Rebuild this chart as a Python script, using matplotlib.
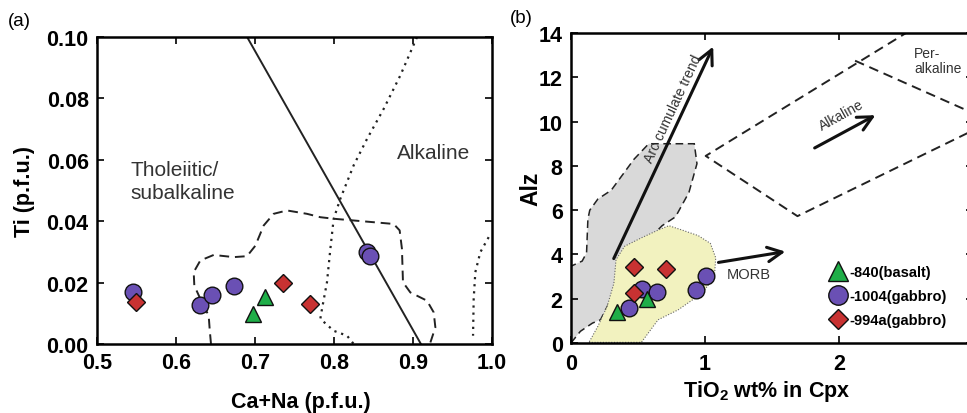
import numpy as np
import matplotlib
matplotlib.use("Agg")
import matplotlib.pyplot as plt
from matplotlib.lines import Line2D

plt.rcParams['font.family'] = ['Liberation Sans', 'DejaVu Sans']
plt.rcParams['mathtext.fontset'] = 'custom'
plt.rcParams['mathtext.rm'] = 'Liberation Sans'
plt.rcParams['mathtext.bf'] = 'Liberation Sans:bold'

# ---- panel (a): Ti vs Ca+Na ----
a_circle_x = [0.546, 0.630, 0.646, 0.673, 0.842, 0.846]
a_circle_y = [0.0169, 0.0127, 0.0160, 0.0188, 0.0299, 0.0288]
a_tri_x = [0.698, 0.713]
a_tri_y = [0.0098, 0.0154]
a_dia_x = [0.550, 0.736, 0.769]
a_dia_y = [0.0138, 0.0199, 0.0129]

# divider line
a_line_x = [0.690, 0.910]
a_line_y = [0.100, 0.000]

# dashed field
a_dash_x = [0.6443, 0.6426, 0.6414, 0.6308, 0.6232, 0.6224, 0.6308, 0.6477, 0.673, 0.6899,
            0.7004, 0.711, 0.7236, 0.7405, 0.7658, 0.7827, 0.7996, 0.8755, 0.8831, 0.886,
            0.8873, 0.8966, 0.9177, 0.9262, 0.9283, 0.922]
a_dash_y = [0.0, 0.0049, 0.0092, 0.0147, 0.019, 0.0234, 0.0272, 0.029, 0.0283, 0.0286,
            0.032, 0.0386, 0.0424, 0.0435, 0.0424, 0.0413, 0.0408, 0.0391, 0.037, 0.031,
            0.0201, 0.0168, 0.0141, 0.0103, 0.0054, 0.0005]

# dotted fields
a_dot1_x = [0.9051, 0.884, 0.8629, 0.8418, 0.8249, 0.808, 0.7996, 0.7954, 0.7911, 0.7848,
            0.7827, 0.7996, 0.8165, 0.8249]
a_dot1_y = [0.1, 0.0875, 0.0766, 0.0668, 0.0582, 0.0473, 0.0408, 0.031, 0.0201, 0.0114,
            0.0082, 0.0043, 0.0027, 0.0]
a_dot2_x = [0.9958, 0.9852, 0.9789, 0.9768, 0.976]
a_dot2_y = [0.0348, 0.0299, 0.0234, 0.0147, 0.0027]

# ---- panel (b): Alz vs TiO2 ----
b_circle_x = [0.43, 0.53, 0.645, 0.93, 1.01]
b_circle_y = [1.58, 2.45, 2.32, 2.38, 3.02]
b_tri_x = [0.34, 0.57]
b_tri_y = [1.38, 1.98]
b_dia_x = [0.47, 0.71, 0.47]
b_dia_y = [3.42, 3.33, 2.28]

b_gray_x = [0.0, 0.0, 0.083, 0.116, 0.126, 0.14, 0.2, 0.30, 0.47, 0.58, 0.92, 0.94,
            0.88, 0.78, 0.68, 0.50, 0.30, 0.22, 0.16, 0.07, 0.01]
b_gray_y = [0.05, 3.47, 3.7, 4.07, 5.6, 6.0, 6.5, 6.9, 8.3, 9.0, 9.0, 8.1,
            6.8, 5.7, 5.3, 4.2, 2.0, 1.05, 0.9, 0.53, 0.08]

b_yel_x = [0.134, 0.525, 0.65, 0.8, 0.98, 1.07, 1.08, 1.04, 0.95, 0.83, 0.73, 0.65,
           0.525, 0.40, 0.336, 0.32, 0.27, 0.20, 0.134]
b_yel_y = [0.03, 0.03, 1.05, 1.5, 2.26, 3.0, 3.85, 4.5, 4.85, 5.1, 5.3, 5.1,
           4.75, 4.37, 3.77, 2.7, 1.66, 0.75, 0.03]

b_alk_lower_x = [3.05, 1.69, 1.005, 2.50]
b_alk_lower_y = [9.75, 5.73, 8.45, 14.0]
b_alk_upper_x = [2.12, 3.05]
b_alk_upper_y = [12.75, 10.25]

legend_labels = ['-840(basalt)', '-1004(gabbro)', '-994a(gabbro)']

green = '#1fae48'
purple = '#6a50b4'
red = '#c83232'

fig = plt.figure(figsize=(9.67, 4.14), dpi=100)
ax1 = fig.add_axes([0.1003, 0.1667, 0.4085, 0.7415])
ax2 = fig.add_axes([0.5905, 0.169, 0.4157, 0.7488])

for ax in (ax1, ax2):
    for s in ax.spines.values():
        s.set_linewidth(1.8)
    ax.tick_params(direction='in', top=True, right=True, length=5, width=1.2,
                   labelsize=15.5, pad=6)
ax2.tick_params(axis='x', pad=7)

ms = 12
# panel (a)
ax1.plot(a_line_x, a_line_y, color='#222222', lw=1.4, zorder=2)
ax1.plot(a_dash_x, a_dash_y, color='#222222', lw=1.4, ls=(0, (5, 3)), zorder=2)
ax1.plot(a_dot1_x, a_dot1_y, color='#222222', lw=1.6, ls=(0, (1, 2.2)), zorder=2)
ax1.plot(a_dot2_x, a_dot2_y, color='#222222', lw=1.6, ls=(0, (1, 2.2)), zorder=2)
ax1.plot(a_circle_x, a_circle_y, 'o', ms=ms, mfc=purple, mec='#111111', mew=1, ls='none', zorder=3)
ax1.plot(a_dia_x, a_dia_y, 'D', ms=ms * 0.8, mfc=red, mec='#111111', mew=1, ls='none', zorder=4)
ax1.plot(a_tri_x, a_tri_y, '^', ms=ms, mfc=green, mec='#111111', mew=1, ls='none', zorder=4)

ax1.set_xlim(0.5, 1.0)
ax1.set_ylim(0, 0.10)
ax1.set_xticks([0.5, 0.6, 0.7, 0.8, 0.9, 1.0])
ax1.set_xticklabels(['0.5', '0.6', '0.7', '0.8', '0.9', '1.0'], fontweight='bold')
ax1.set_yticks([0, 0.02, 0.04, 0.06, 0.08, 0.10])
ax1.set_yticklabels(['0.00', '0.02', '0.04', '0.06', '0.08', '0.10'], fontweight='bold')
ax1.set_xlabel('Ca+Na (p.f.u.)', fontsize=15.5, fontweight='bold')
ax1.xaxis.set_label_coords(0.516, -0.153)
ax1.set_ylabel('Ti (p.f.u.)', fontsize=15.5, fontweight='bold')
ax1.yaxis.set_label_coords(-0.157, 0.5)
ax1.text(0.542, 0.053, 'Tholeiitic/\nsubalkaline', fontsize=15, color='#333333',
         va='center', ha='left', linespacing=1.25)
ax1.text(0.880, 0.0625, 'Alkaline', fontsize=15, color='#333333', va='center', ha='left')
fig.text(0.008, 0.948, '(a)', fontsize=13.5, va='center', ha='left')

# panel (b)
ax2.fill(b_gray_x, b_gray_y, facecolor='#d9d9d9', edgecolor='#222222', lw=1.1,
         ls=(0, (5, 3)), zorder=1)
ax2.fill(b_yel_x, b_yel_y, facecolor='#f2f2bf', edgecolor='#666666', lw=0.8,
         ls=(0, (1, 1.5)), zorder=1.5)
ax2.plot(b_alk_lower_x, b_alk_lower_y, color='#222222', lw=1.4, ls=(0, (5, 3)), zorder=2)
ax2.plot(b_alk_upper_x, b_alk_upper_y, color='#222222', lw=1.4, ls=(0, (5, 3)), zorder=2)

arrow = dict(arrowstyle='->', lw=2.2, color='#111111', mutation_scale=26)
ax2.annotate('', xy=(1.07, 13.5), xytext=(0.31, 3.7), arrowprops=arrow, zorder=2.5)
ax2.annotate('', xy=(1.62, 4.15), xytext=(1.08, 3.62), arrowprops=arrow, zorder=2.5)
ax2.annotate('', xy=(2.29, 10.35), xytext=(1.80, 8.75), arrowprops=arrow, zorder=2.5)
ax2.text(0.765, 10.6, 'Arc cumulate trend', fontsize=10, rotation=65, color='#333333',
         ha='center', va='center', rotation_mode='anchor')
ax2.text(2.02, 10.3, 'Alkaline', fontsize=10, rotation=29, color='#333333',
         ha='center', va='center', rotation_mode='anchor')
ax2.text(1.33, 3.1, 'MORB', fontsize=10.5, color='#333333', ha='center', va='center')
ax2.text(2.56, 12.75, 'Per-\nalkaline', fontsize=10, color='#333333', ha='left',
         va='center', linespacing=1.1)

ax2.plot(b_circle_x, b_circle_y, 'o', ms=ms, mfc=purple, mec='#111111', mew=1, ls='none', zorder=3)
ax2.plot(b_tri_x, b_tri_y, '^', ms=ms, mfc=green, mec='#111111', mew=1, ls='none', zorder=4)
ax2.plot(b_dia_x, b_dia_y, 'D', ms=ms * 0.8, mfc=red, mec='#111111', mew=1, ls='none', zorder=4)

ax2.set_xlim(0, 3)
ax2.set_ylim(0, 14)
ax2.set_xticks([0, 1, 2, 3])
ax2.set_xticklabels(['0', '1', '2', '3'], fontweight='bold')
ax2.set_yticks(range(0, 15, 2))
ax2.set_yticklabels([str(v) for v in range(0, 15, 2)], fontweight='bold')
ax2.set_xlabel(r'TiO$_\mathbf{2}$ wt% in Cpx', fontsize=15.5, fontweight='bold')
ax2.xaxis.set_label_coords(0.487, -0.112)
ax2.set_ylabel('Alz', fontsize=16.5, fontweight='bold')
ax2.yaxis.set_label_coords(-0.072, 0.5)
fig.text(0.527, 0.955, '(b)', fontsize=13.5, va='center', ha='left')

handles = [
    Line2D([], [], marker='^', ls='none', ms=15, mfc=green, mec='#111111', mew=1),
    Line2D([], [], marker='o', ls='none', ms=14, mfc=purple, mec='#111111', mew=1),
    Line2D([], [], marker='D', ls='none', ms=10.5, mfc=red, mec='#111111', mew=1),
]
leg = ax2.legend(handles, legend_labels, frameon=False, loc='center left',
                 bbox_to_anchor=(0.64, 0.152), handlelength=1.4, handletextpad=0.05,
                 labelspacing=0.68, borderpad=0, borderaxespad=0,
                 prop={'size': 10.5, 'weight': 'bold'})

fig.savefig('out.png', dpi=100)
